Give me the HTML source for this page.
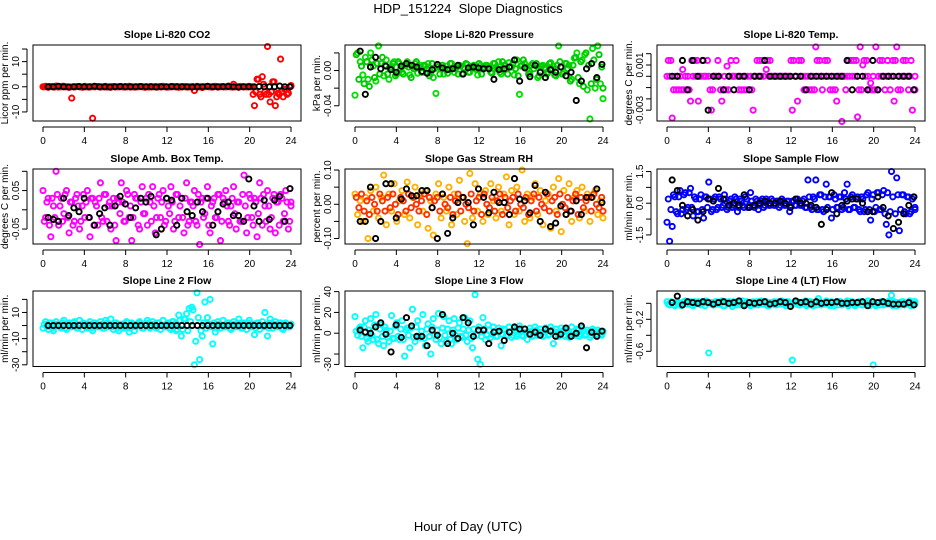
<!DOCTYPE html>
<html><head><meta charset="utf-8"><style>
html,body{margin:0;padding:0;background:#fff;}
svg{display:block;font-family:"Liberation Sans",Arial,sans-serif;}
</style></head><body>
<svg id="chart" width="936" height="540" viewBox="0 0 936 540" xmlns="http://www.w3.org/2000/svg">
<text x="468" y="13" text-anchor="middle" font-size="13">HDP_151224&#160; Slope Diagnostics</text>
<text x="468" y="531" text-anchor="middle" font-size="13">Hour of Day (UTC)</text>
</svg>
<script>
const xTicks = [0,4,8,12,16,20,24];

const co2A = [0,.2,-.2,.1,0,.3,-.1,0,.2,0,-.2,-4.5,0,.1,0,-.2,.2,0,0,-12.5,0,.1,-.1,0,.2,0,-.2,.1,0,0,.1,-.1,0,.2,0,-.1,0,.1,0,-.2,0,.1,0,.1,-.1,0,.2,0,-.1,0,.1,0,-.2,0,.1,0,0,0,-1.5,.2,0,-.3,0,.1,0,0,.2,-.1,0,.1,0,.3,0,1,0,-.2,.1,0,0,.2,0,-7.5,3,-3,4,-2,16,-6,2,-7.5,-2.5,11,-4,-1,-2.5,.2];
const co2B = [0,0,.1,0,-.1,0,0,.2,0,0,-.1,0,0,.1,0,0,0,-.1,0,0,.1,0,0,0,-.1,0,.1,0,0,0,0,.1,0,-.1,0,0,0,.1,0,0,-.1,0,0,0,.1,0,0,-.1,0,0,0,.1,0,0,0,-.1,0,.1,0,0,0,0,.1,0,-.1,0,0,0,.1,0,0,0,-.1,0,0,.1,0,0,0,0,-3,-2,3,-4,1,-3,-3,-2,2,-4,-3,-2,-1,-3,0,.5];
const co2K = [0,0,.2,0,-.1,0,.1,0,0,.2,0,0,-.1,0,.1,0,0,0,.1,0,0,-.1,0,0,.1,0,0,0,-.1,0,0,.2,0,0,0,.1,0,-.1,0,0,0,.1,0,0,0,.3,0,0];

const presA = [-.028,.02,.01,-.005,.015,-.01,.02,.005,-.012,.028,.008,-.006,.012,-.01,.004,.01,-.004,.008,-.002,.006,.01,-.005,.004,.008,-.003,.006,-.002,.005,.008,-.003,-.008,-.026,.006,.002,-.004,.005,.002,.008,-.002,.004,.006,-.004,.003,.007,-.002,.005,.003,-.005,.006,.002,.006,.004,-.002,.008,.004,.01,-.004,.006,.002,.009,.004,-.005,.012,-.027,.006,.008,.002,-.004,.008,.006,-.008,.004,.006,.002,-.002,.009,.005,-.006,.028,.004,-.002,.008,.006,-.01,.014,.02,-.015,.012,.018,-.022,-.055,.025,-.02,.028,-.015,-.032];
const presB = [.018,-.01,.005,-.015,.01,-.018,.012,-.008,.008,-.004,.015,.006,-.004,.002,.008,-.006,.01,.002,-.004,.006,.004,-.008,.002,.01,.004,-.002,.006,.002,-.006,.008,.002,.004,-.004,.006,.002,-.003,.008,.003,.002,-.004,.005,.003,.008,-.002,.004,.006,.001,.008,-.004,.004,.006,.002,-.003,.008,.002,-.002,.01,.006,-.004,.004,.008,.002,-.006,.005,.012,.004,-.004,.006,.002,.008,-.006,.005,.003,-.004,.008,.002,-.005,.006,.01,-.004,.008,.002,-.012,.006,.015,-.008,.01,-.018,.02,.006,-.015,.012,-.01,.018,.004,-.02];
const presK = [.022,-.027,.004,.015,.002,.005,.001,-.002,.005,.008,.006,.004,-.001,-.003,.001,.007,.003,.001,.002,.006,-.004,.003,.004,.003,.002,.002,-.01,.001,.002,.004,.012,-.012,.003,-.007,.006,-.002,-.008,.001,-.002,.004,-.006,-.002,-.034,-.012,.002,.008,-.008,.007];

const tempA = [0,0,-.0037,0,0,0,.0006,0,0,-.0022,0,0,-.0022,0,0,0,0,-.003,0,0,0,-.0022,0,.0009,0,0,0,0,0,0,0,0,0,-.003,0,0,0,0,.0006,0,0,0,0,0,0,0,0,0,-.003,0,-.0022,0,0,0,0,0,0,.0026,0,0,0,0,0,0,0,-.0022,0,-.004,0,0,0,0,0,-.0036,.0026,.001,0,0,-.0006,0,.0026,0,0,0,0,0,0,-.0022,.0026,0,0,0,0,0,-.003,0];
const tempB = [.0014,.0014,-.0012,-.0012,-.0012,-.0012,-.0012,-.0012,-.0012,.0014,.0014,.0014,0,.0014,0,.0014,-.0012,-.0012,0,.0014,-.0012,-.0012,-.0012,-.0012,.0014,0,.0014,-.0012,-.0012,-.0012,-.0012,-.0012,-.0012,0,.0014,.0014,.0014,.0014,.0014,.0014,0,0,0,0,0,0,0,.0014,.0014,0,.0014,.0014,-.0012,-.0012,-.0012,-.0012,-.0012,.0014,.0014,-.0012,.0014,.0014,-.0012,-.0012,-.0012,0,0,0,-.0012,.0014,.0014,.0014,.0014,-.0012,-.0012,.0014,.0014,-.0012,-.0012,-.0012,-.0012,.0014,.0014,-.0012,.0014,-.0012,.0014,.0014,-.0012,-.0012,.0014,.0014,-.0012,.0014,-.0012,-.0012];
const tempK = [0,0,.0014,-.0012,.0014,0,.0014,-.003,0,0,-.0012,0,-.0012,0,0,-.0012,0,0,.0014,0,0,0,0,0,0,0,-.0012,0,0,0,0,0,0,0,.0014,-.0012,0,0,-.0012,.0014,-.0012,0,0,0,0,0,0,-.0012];

const boxA = [.05,-.02,.03,-.07,.01,.1,-.04,.03,-.01,.05,-.06,.02,-.03,.04,-.05,.01,-.02,.05,-.07,.03,.02,-.04,.07,-.03,.04,.01,-.05,.03,-.08,.02,.07,-.03,.05,-.02,-.08,.04,.03,-.05,.06,-.01,-.04,.02,.06,-.06,.03,-.02,.05,-.03,.01,.06,-.05,.04,-.02,.03,-.06,.07,-.03,.02,.05,-.04,-.09,.03,-.01,.06,-.06,.02,-.02,.04,-.08,.03,.05,-.03,.01,.06,-.05,.02,-.03,.09,-.06,.04,-.02,.03,-.07,.07,-.04,.01,.05,-.05,.03,-.06,.02,.04,-.03,.05,-.05,.02];
const boxB = [-.03,.02,-.04,.03,-.02,.04,.01,-.03,.04,-.02,.02,-.04,.03,.01,-.03,.04,.02,-.02,.03,-.04,.01,.03,-.02,.04,-.03,.02,.01,-.04,.03,-.01,.02,-.03,.04,.01,-.02,.03,-.04,.02,-.01,.03,.04,-.03,.01,-.02,.04,.02,-.04,.03,-.01,.02,-.03,.04,.01,-.02,.03,-.04,.02,.01,-.03,.04,.02,-.02,.03,-.04,.01,.03,-.02,.04,-.03,.02,.01,-.04,.03,-.01,.02,-.03,.04,.01,-.02,.03,-.04,.02,-.01,.03,.04,-.03,.01,-.02,.04,.02,-.04,.03,-.01,.02,-.03,.01];
const boxK = [-.02,-.025,-.03,.03,-.015,.005,-.005,.03,-.02,-.04,-.01,.005,-.04,.01,.035,.015,-.02,.005,.03,.02,.035,-.065,-.05,.03,.025,-.04,.03,-.005,-.015,.02,-.005,.03,-.04,-.005,.015,.02,-.015,-.015,-.03,.08,.01,-.03,.025,-.025,.025,.035,-.03,.055];

const rhA = [.03,-.03,.01,-.05,.02,-.1,.04,-.02,.05,-.04,.02,.085,-.06,.03,-.02,.06,-.05,.01,.04,-.03,.065,-.04,.02,.05,-.06,.03,-.02,.04,-.07,.01,-.09,.03,.06,-.04,.02,-.02,.05,-.06,.03,-.03,.07,.02,-.05,-.115,.09,-.04,.06,-.02,.03,-.05,.04,-.03,.06,.01,-.04,.05,-.02,.03,.08,-.06,.04,-.03,.05,-.02,.1,-.05,.03,-.04,.02,.06,-.03,.04,-.06,.01,.03,-.07,.05,-.02,.075,-.08,.04,-.03,.06,-.05,.02,.04,-.04,.05,-.02,.03,-.05,.02,.04,-.03,.01,-.04];
const rhB = [.02,-.01,.03,-.02,.01,-.03,.02,0,-.02,.03,.01,-.02,.02,-.01,.03,0,-.03,.02,.01,-.02,.03,-.01,.02,0,-.02,.01,.03,-.03,.02,-.01,.01,.02,-.02,.03,0,-.01,.02,-.03,.01,.03,-.02,.02,0,-.01,.03,-.02,.01,.02,-.03,.03,0,-.01,.02,-.02,.01,.03,-.03,.02,-.01,.01,.02,-.02,.03,0,-.01,.02,-.03,.01,.03,-.02,.02,0,-.01,.03,-.02,.01,.02,-.03,.03,0,-.01,.02,-.02,.01,.03,-.03,.02,-.01,.01,.02,-.02,.03,0,-.01,.02,-.02];
const rhK = [-.05,-.05,.05,-.1,-.05,.06,.06,-.04,.015,.045,.025,.025,.04,.04,-.01,-.1,.03,-.085,-.04,.005,.02,.005,-.06,.045,.02,-.025,.035,.005,.005,-.03,.075,.015,.01,-.025,.055,-.05,.035,-.065,-.055,-.005,-.03,-.02,.01,-.03,.02,.02,.045,.005];

const flowA = [-.9,-1.8,-1.1,.3,-.5,.6,-.3,.5,-.2,.7,-.6,.2,-.4,.4,-.7,.3,1,-.4,.2,-.3,.3,-.2,.4,-.3,.1,-.2,.3,-.4,.2,-.1,.3,-.2,.5,-.1,.2,-.3,.1,-.2,.2,-.1,.2,-.1,.1,-.2,.2,-.1,.1,-.4,.1,-.1,.2,-.1,.1,-.2,1.1,-.2,.3,1.1,-.3,.4,-.4,.9,.3,-.7,.4,-.2,.3,-.3,.5,.9,-.3,.4,-.2,.3,-.4,.2,-.3,.5,-.8,.4,-.2,.5,-.3,.6,-1,-1.5,1.5,1.9,1.2,-1.3,.4,-.4,.3,-.5,.2,-.3];
const flowB = [.2,-.3,.4,-.4,.3,-.5,.4,-.3,.5,-.2,.3,-.4,.2,-.3,.3,-.2,.2,-.3,.3,-.2,.2,-.1,.2,-.2,.2,-.1,.2,-.2,.1,-.2,.2,-.1,.1,-.2,.1,-.1,.2,-.1,.1,-.1,.1,-.1,.1,-.1,.1,-.1,.1,-.1,.1,-.1,.1,-.1,.2,-.2,.3,-.3,.2,-.3,.4,-.3,.3,-.2,.3,-.3,.2,-.2,.3,-.2,.2,-.3,.3,-.2,.2,-.3,.3,-.4,.4,-.3,.2,-.4,.5,-.3,.4,-.5,.5,-.4,.3,-.5,.4,-.3,.4,-.5,.3,-.4,.3,-.2];
const flowK = [1.1,.6,-.1,-.6,-.3,-.8,-.4,.2,.1,.7,.2,-.1,0,-.1,.4,-.2,-.1,0,.1,0,0,.1,0,-.2,.2,0,0,-.1,-.2,-1,-.3,.5,-.5,-.1,.1,.2,.2,0,-.4,-.4,.3,-.2,-.6,-1.2,-.9,-.5,-.1,.3];

const l2A = [-2,3,-3,2,-4,3,1,-2,4,-3,2,-1,3,-2,4,-3,1,-2,3,-4,2,-1,3,-2,4,-1,5,-3,2,-4,1,-2,3,-5,2,-4,1,3,-2,1,4,-2,3,-1,2,-3,4,-1,2,-3,3,-4,8,-8,5,9,13,14,-30,25,-26,-8,18,6,20,-14,-5,3,-2,4,-1,2,-3,3,-1,5,-2,2,-3,4,-1,-7,2,-3,3,10,-8,5,-2,3,-1,2,-3,2,-1,1];
const l2B = [1,-1,2,-2,1,0,-1,2,-2,1,-1,2,0,-2,1,2,-1,1,-2,2,0,-1,1,-2,2,1,-1,2,-2,0,1,-1,2,-2,1,-1,2,0,-2,1,2,-1,1,-2,2,0,-1,1,-2,3,1,-3,4,-3,5,-4,3,12,-12,6,-4,2,-2,1,-1,2,-2,1,0,-1,2,-2,1,-1,2,0,-2,1,2,-1,1,-2,2,0,-1,1,-2,2,1,-1,2,-2,0,1,-1,1];
const l2K = [0,0,0,0,0,0,0,0,0,0,0,0,0,0,0,0,0,0,0,0,0,0,0,0,0,0,0,0,0,0,0,0,0,0,0,0,0,0,0,0,0,0,0,0,0,0,0,0];

const l3A = [16,-2,6,-14,12,-8,14,-6,18,-10,8,-12,3,-8,17,-5,10,-6,12,-22,5,-14,23,-8,12,-4,18,-12,9,-20,14,-6,19,-10,16,-8,12,-10,14,-6,10,-4,15,-8,12,-14,37,-25,-30,15,-6,8,-4,6,-3,5,-12,4,-2,6,-4,5,-3,7,-2,4,-6,5,-3,6,-2,4,-3,5,-2,6,-10,4,-3,5,-2,3,-4,6,-2,4,-3,5,-2,3,-4,4,-2,3,-1,2];
const l3B = [2,4,-3,6,-5,3,-2,8,-6,4,-3,6,-4,2,-5,7,-3,4,-6,3,-2,5,-4,6,-3,2,-5,4,-3,6,-2,3,-4,5,-2,4,-6,3,-2,5,-3,4,-2,3,-5,4,-2,6,-3,4,-2,3,-1,2,-3,2,-1,3,-2,1,-2,3,-1,2,-3,1,-1,2,-2,3,-1,1,-2,2,-1,3,-2,1,-1,2,-3,2,-1,1,-2,3,-1,2,-1,1,-2,2,-1,1,-2,1];
const l3K = [3,1,0,6,10,-1,-18,8,-4,15,7,-3,-3,-12,3,-2,18,-10,0,-5,15,10,-3,3,3,-10,1,2,-7,1,6,4,4,-1,1,-2,4,2,-3,-1,5,-3,0,7,-14,1,-3,2];

const l4A = [.02,-.02,.01,-.03,.02,0,-.02,.03,-.01,.02,-.03,.01,.02,-.02,0,.03,-.62,.01,-.02,.02,-.01,.03,-.03,.01,.02,-.04,0,.02,-.02,.03,-.01,.01,-.03,.02,0,-.02,.03,-.01,.02,-.03,.01,.02,-.02,0,.03,-.01,.02,-.03,-.71,.01,.02,-.02,0,.03,-.01,.02,-.03,.01,.06,-.02,0,.03,-.01,.02,-.03,.01,.02,-.02,0,.03,-.01,.02,-.03,.01,.02,-.02,0,.03,-.01,-.77,-.03,.01,.02,-.02,0,.03,.1,.02,-.03,.01,.02,-.02,0,.03,-.01,.02];
const l4B = [-.01,.02,-.02,.01,0,-.03,.02,-.01,.01,-.02,.02,0,-.01,.02,-.03,.01,0,-.02,.02,-.01,.01,-.03,.02,0,-.01,.02,-.02,.01,0,-.03,.02,-.01,.01,-.02,.02,0,-.01,.02,-.03,.01,0,-.02,.02,-.01,.01,-.03,.02,0,-.01,.02,-.02,.01,0,-.03,.02,-.01,.01,-.02,.02,0,-.01,.02,-.03,.01,0,-.02,.02,-.01,.01,-.03,.02,0,-.01,.02,-.02,.01,0,-.03,.02,-.01,.01,-.02,.02,0,-.01,.02,-.03,.01,0,-.02,.02,-.01,.01,-.03,.02,-.01];
const l4K = [.01,.09,-.02,.02,.01,0,.02,.01,-.01,.01,.02,0,.01,.03,-.03,.01,0,.01,.02,-.01,0,.02,.01,-.04,.03,.01,.02,-.01,.02,0,.01,.01,.02,0,0,.01,.01,.02,-.03,.02,.01,.02,0,-.01,-.01,-.01,.01,-.02];

const panels = [
 {name:'co2',title:'Slope Li-820 CO2',yt:'Licor ppm per min.',col:0,row:0,d:[-13.6,16.6],ticks:[-10,-5,0,5,10,15],labels:{'-10':'-10','0':'0','10':'10'},A:co2A,B:co2B,K:co2K,cA:'#ff0000',cB:'#ff0000'},
 {name:'pressure',title:'Slope Li-820 Pressure',yt:'kPa per min.',col:1,row:0,d:[-0.0573,0.029],ticks:[-0.04,-0.02,0,0.02],labels:{'-0.04':'-0.04','0':'0.00'},A:presA,B:presB,K:presK,cA:'#00e000',cB:'#00c800'},
 {name:'temp',title:'Slope Li-820 Temp.',yt:'degrees C per min.',col:2,row:0,d:[-0.00396,0.00277],ticks:[0.002,0.001,0,-0.001,-0.002,-0.003],labels:{'0.001':'0.001','-0.003':'-0.003'},A:tempA,B:tempB,K:tempK,cA:'#ff00ff',cB:'#ff00ff'},
 {name:'amb-box-temp',title:'Slope Amb. Box Temp.',yt:'degrees C per min.',col:0,row:1,d:[-0.0888,0.106],ticks:[0.1,0.05,0,-0.05],labels:{'0.05':'0.05','-0.05':'-0.05'},A:boxA,B:boxB,K:boxK,cA:'#ff00ff',cB:'#ff00ff'},
 {name:'gas-stream-rh',title:'Slope Gas Stream RH',yt:'percent per min.',col:1,row:1,d:[-0.116,0.103],ticks:[0.1,0.05,0,-0.05,-0.1],labels:{'0.1':'0.10','0':'0.00','-0.1':'-0.10'},A:rhA,B:rhB,K:rhK,cA:'#ffb000',cB:'#ff3000'},
 {name:'sample-flow',title:'Slope Sample Flow',yt:'ml/min per min.',col:2,row:1,d:[-1.93,1.62],ticks:[1.5,0.75,0,-0.75,-1.5],labels:{'1.5':'1.5','0':'0.0','-1.5':'-1.5'},A:flowA,B:flowB,K:flowK,cA:'#0000ff',cB:'#0000ff'},
 {name:'line-2-flow',title:'Slope Line 2 Flow',yt:'ml/min per min.',col:0,row:2,d:[-31.3,26.4],ticks:[20,10,0,-10,-20,-30],labels:{'10':'10','-10':'-10','-30':'-30'},A:l2A,B:l2B,K:l2K,cA:'#00ffff',cB:'#00ffff'},
 {name:'line-3-flow',title:'Slope Line 3 Flow',yt:'ml/min per min.',col:1,row:2,d:[-32,40.6],ticks:[40,20,0,-20,-30],labels:{'40':'40','20':'20','0':'0','-30':'-30'},A:l3A,B:l3B,K:l3K,cA:'#00ffff',cB:'#00ffff'},
 {name:'line-4-flow',title:'Slope Line 4 (LT) Flow',yt:'ml/min per min.',col:2,row:2,d:[-0.79,0.154],ticks:[0,-0.2,-0.4,-0.6],labels:{'-0.2':'-0.2','-0.6':'-0.6'},A:l4A,B:l4B,K:l4K,cA:'#00ffff',cB:'#00ffff'}
];

const NS='http://www.w3.org/2000/svg';
const svg=document.getElementById('chart');
const rowTop=[45,169,291], rowBot=[121,244,366.5], colLeft=[33,345,657];
function mk(tag,attrs,parent){const e=document.createElementNS(NS,tag);for(const k in attrs)e.setAttribute(k,attrs[k]);parent.appendChild(e);return e;}

panels.forEach(p=>{
  const L=colLeft[p.col], R=L+268, T=rowTop[p.row], B=rowBot[p.row];
  const g=mk('g',{},svg);
  
  
  const xs=h=>L+10+h*(248/24);
  const ys=v=>B-(v-p.d[0])/(p.d[1]-p.d[0])*(B-T);
  const t=mk('text',{x:(L+R)/2,y:T-7,'text-anchor':'middle','font-size':10.5,'font-weight':'bold'},g);
  t.textContent=p.title;
  
  
  const pts=mk('g',{fill:'none'},g);
  
  
  [[p.A,p.cA,0],[p.B,p.cB,0.125]].forEach(([arr,c,off])=>{
    arr.forEach((v,i)=>{
      const h=Math.min(24,i*24/(arr.length-1)+off*(i<arr.length-1?1:0));
      const y=ys(v); if(y<T-2||y>B+2)return;
      const c1=mk('circle',{cx:xs(h),cy:y,r:2.6,stroke:c,'stroke-width':1.9},pts);
      
      
    });
  });
  p.K.forEach((v,i)=>{
    const h=0.5+i*23.4/(p.K.length-1);
    const c2=mk('circle',{cx:xs(h),cy:ys(v),r:2.6,stroke:'#000','stroke-width':1.9},pts);
    
    
  });
  const bx=mk('rect',{x:L,y:T,width:R-L,height:B-T,fill:'none',stroke:'#000','stroke-width':1},g);
  
  
  const xa=mk('g',{},g);
  
  
  mk('line',{x1:xs(0),x2:xs(24),y1:B+6,y2:B+6,stroke:'#000'},xa);
  xTicks.forEach(h=>{
    mk('line',{x1:xs(h),x2:xs(h),y1:B+6,y2:B+11,stroke:'#000'},xa);
    const lt=mk('text',{x:xs(h),y:B+23,'text-anchor':'middle','font-size':10},xa);
    lt.textContent=h;
    
    
  });
  const ya=mk('g',{},g);
  
  
  const tv=p.ticks.map(ys);
  mk('line',{x1:L-6,x2:L-6,y1:Math.min(...tv),y2:Math.max(...tv),stroke:'#000'},ya);
  p.ticks.forEach(v=>{
    const y=ys(v);
    mk('line',{x1:L-11,x2:L-6,y1:y,y2:y,stroke:'#000'},ya);
    const key=String(v);
    if(p.labels[key]!==undefined){
      const yl=mk('text',{x:L-14,y:y,'text-anchor':'middle','font-size':10,transform:'rotate(-90 '+(L-14)+' '+y+')'},ya);
      yl.textContent=p.labels[key];
      
      
    }
  });
  const yt=mk('text',{x:L-25,y:(T+B)/2,'text-anchor':'middle','font-size':10,transform:'rotate(-90 '+(L-25)+' '+((T+B)/2)+')'},g);
  yt.textContent=p.yt;
  
  
});
</script>
</body></html>
